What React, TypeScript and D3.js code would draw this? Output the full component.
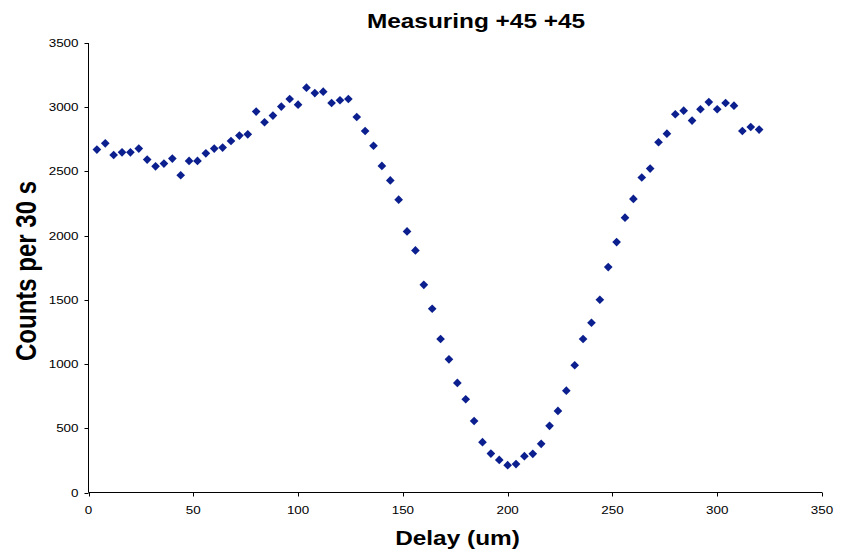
import React from "react";
import * as d3 from "d3";

const delays: number[] = [
  4, 8, 12, 16, 20, 24, 28, 32, 36, 40, 44, 48, 52, 56, 60, 64, 68, 72, 76, 80,
  84, 88, 92, 96, 100, 104, 108, 112, 116, 120, 124, 128, 132, 136, 140, 144, 148, 152, 156, 160,
  164, 168, 172, 176, 180, 184, 188, 192, 196, 200, 204, 208, 212, 216, 220, 224, 228, 232, 236, 240,
  244, 248, 252, 256, 260, 264, 268, 272, 276, 280, 284, 288, 292, 296, 300, 304, 308, 312, 316, 320,
];
const counts: number[] = [
  2670, 2719, 2628, 2649, 2649, 2678, 2592, 2540, 2561, 2600, 2470, 2582, 2582, 2641, 2678, 2686, 2737, 2779, 2789, 2966,
  2883, 2935, 3005, 3064, 3020, 3152, 3110, 3121, 3033, 3054, 3064, 2924, 2815, 2700, 2543, 2430, 2280, 2033, 1885, 1617,
  1431, 1195, 1037, 853, 726, 557, 392, 303, 254, 213, 221, 283, 301, 379, 519, 635, 793, 991, 1195, 1322,
  1501, 1755, 1950, 2140, 2286, 2453, 2522, 2727, 2794, 2945, 2973, 2896, 2984, 3040, 2984, 3033, 3012, 2815, 2846, 2826,
];
const xTicks: number[] = [0, 50, 100, 150, 200, 250, 300, 350];
const yTicks: number[] = [0, 500, 1000, 1500, 2000, 2500, 3000, 3500];
const title = "Measuring +45 +45";
const xTitle = "Delay (um)";
const yTitle = "Counts per 30 s";

const W = 846;
const H = 555;
const FONT = "Arial, 'Liberation Sans', sans-serif";
const SX = 1.22;
const MARK = "#0B1F8E";

function T(props: {
  x: number; y: number; size: number; bold?: boolean; anchor?: string; rotate?: boolean; children: React.ReactNode;
}) {
  const { x, y, size, bold, anchor, rotate, children } = props;
  return (
    <text
      transform={`translate(${x},${y}) scale(${SX},1)${rotate ? " rotate(-90)" : ""}`}
      fontFamily={FONT}
      fontSize={size}
      fontWeight={bold ? "bold" : "normal"}
      textAnchor={anchor || "start"}
      fill="#000"
    >
      {children}
    </text>
  );
}

export default function App() {
  const x = d3.scaleLinear().domain([0, 350]).range([88.5, 822]);
  const y = d3.scaleLinear().domain([0, 3500]).range([492.5, 43]);
  const diamond = d3.symbol().type(d3.symbolDiamond2).size(48)();
  const pts = delays.map((d, i) => [d, counts[i]] as [number, number]);

  return (
    <svg
      width={W}
      height={H}
      style={{ position: "fixed", left: 0, top: 0, background: "#fff" }}
    >
      <rect x={0} y={0} width={W} height={H} fill="#fff" />
      <line x1={x(0)} x2={x(0)} y1={y(3500)} y2={y(0)} stroke="#000" strokeWidth={1} />
      <line x1={x(0)} x2={x(350)} y1={y(0)} y2={y(0)} stroke="#000" strokeWidth={1} />
      {yTicks.map((t) => (
        <g key={"y" + t}>
          <line x1={x(0) - 4} x2={x(0)} y1={Math.round(y(t)) + 0.5} y2={Math.round(y(t)) + 0.5} stroke="#000" />
          <T x={78.5} y={y(t) + 4} size={11} anchor="end">{t}</T>
        </g>
      ))}
      {xTicks.map((t) => (
        <g key={"x" + t}>
          <line x1={Math.round(x(t)) + 0.5} x2={Math.round(x(t)) + 0.5} y1={y(0)} y2={y(0) + 4} stroke="#000" />
          <T x={x(t)} y={514} size={11} anchor="middle">{t}</T>
        </g>
      ))}
      {pts.map(([d, c], i) => (
        <path key={i} d={diamond} transform={`translate(${x(d)},${y(c)})`} fill={MARK} />
      ))}
      <T x={476} y={28} size={20} bold anchor="middle">{title}</T>
      <T x={457.5} y={545} size={20} bold anchor="middle">{xTitle}</T>
      <T x={36} y={271} size={24} bold anchor="middle" rotate>{yTitle}</T>
    </svg>
  );
}
